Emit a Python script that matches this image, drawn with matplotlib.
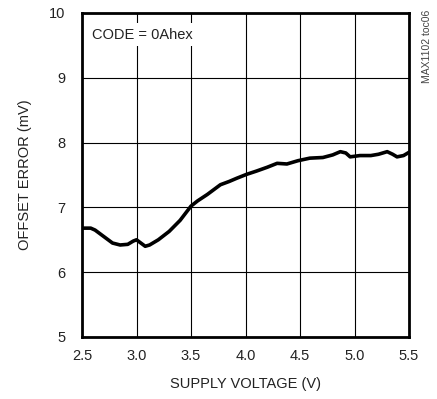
import matplotlib.pyplot as plt
import numpy as np

# supply voltage (V) and offset error (mV)
volts = [2.50, 2.58, 2.62, 2.70, 2.78, 2.85, 2.92, 2.97, 3.00, 3.04, 3.08, 3.12,
         3.20, 3.30, 3.40, 3.50, 3.56, 3.65, 3.77, 3.85, 3.92, 4.01, 4.10, 4.20,
         4.29, 4.38, 4.48, 4.59, 4.71, 4.80, 4.87, 4.92, 4.96, 5.05, 5.15, 5.22,
         5.30, 5.35, 5.39, 5.45, 5.50]
offset = [6.68, 6.68, 6.65, 6.55, 6.45, 6.42, 6.43, 6.48, 6.50, 6.45, 6.40, 6.42,
          6.50, 6.63, 6.80, 7.02, 7.10, 7.20, 7.35, 7.40, 7.45, 7.51, 7.56, 7.62,
          7.68, 7.67, 7.72, 7.76, 7.77, 7.81, 7.86, 7.84, 7.78, 7.80, 7.80, 7.82,
          7.86, 7.82, 7.78, 7.80, 7.85]

xticks = [2.5, 3.0, 3.5, 4.0, 4.5, 5.0, 5.5]
yticks = [5, 6, 7, 8, 9, 10]

plt.rcParams["font.family"] = ["Liberation Sans", "DejaVu Sans"]

fig = plt.figure(figsize=(4.37, 3.99), dpi=100)
ax = fig.add_axes([82 / 437, 1 - 337 / 399, (409 - 82) / 437, (337 - 13) / 399])

ax.plot(volts, offset, color="black", lw=2.6, solid_capstyle="round", zorder=3)

ax.set_xlim(2.5, 5.5)
ax.set_ylim(5, 10)
ax.set_xticks(xticks)
ax.set_xticklabels([f"{v:.1f}" for v in xticks])
ax.set_yticks(yticks)
ax.grid(color="black", lw=0.8)
ax.tick_params(length=0, labelsize=10.5, labelcolor="#222222")
ax.tick_params(axis="x", pad=9)
ax.tick_params(axis="y", pad=12)
for s in ax.spines.values():
    s.set_linewidth(2)

ax.set_xlabel("SUPPLY VOLTAGE (V)", fontsize=10.5, labelpad=10, color="#222222")
ax.set_ylabel("OFFSET ERROR (mV)", fontsize=10.5, labelpad=12, color="#222222")

ax.text(0.03, 0.955, "CODE = 0Ahex", transform=ax.transAxes, fontsize=10.5,
        va="top", ha="left", zorder=4, color="#222222",
        bbox=dict(facecolor="white", edgecolor="none", pad=3))

fig.text(427 / 437, 1 - 10 / 399, "MAX1102 toc06", rotation=90, fontsize=7.5,
         ha="center", va="top", color="#444444")

fig.savefig("out.png", dpi=100)
